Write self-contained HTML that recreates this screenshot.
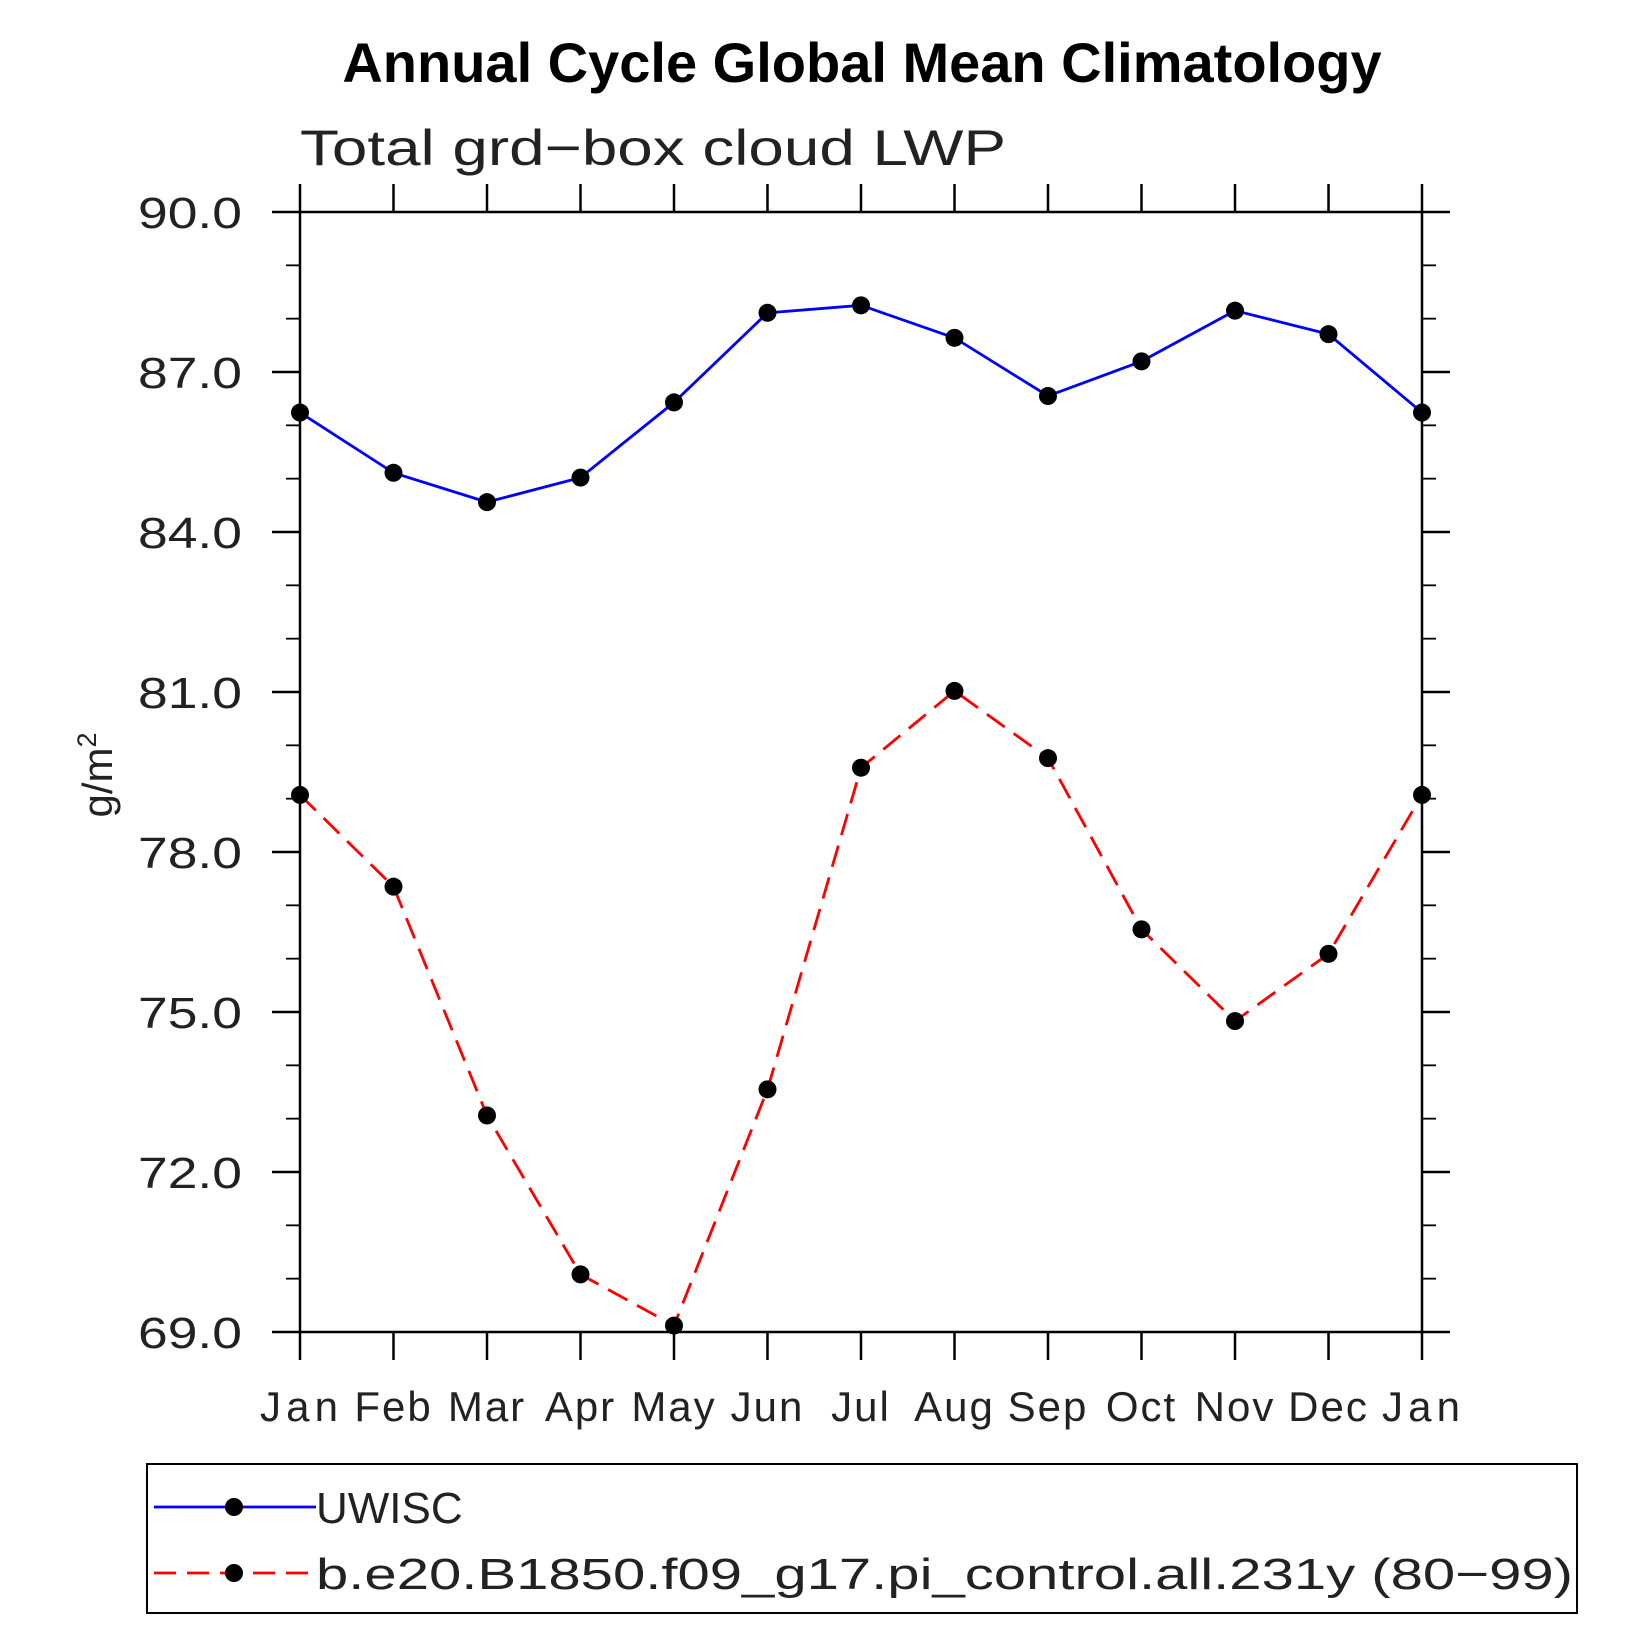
<!DOCTYPE html>
<html><head><meta charset="utf-8"><style>
html,body{margin:0;padding:0;background:#fff;}
svg{display:block;}
text{font-family:"Liberation Sans",sans-serif;}
</style></head><body>
<svg id="chart" width="1652" height="1652" viewBox="0 0 1652 1652" xmlns="http://www.w3.org/2000/svg">
<text x="862" y="82" text-anchor="middle" font-size="56" font-weight="bold">Annual Cycle Global Mean Climatology</text>
<text x="300" y="165" font-size="50" fill="#222" textLength="706" lengthAdjust="spacingAndGlyphs">Total grd−box cloud LWP</text>
<text transform="translate(112,775) rotate(-90)" text-anchor="middle" font-size="42" fill="#222">g/m<tspan dy="-16" font-size="27">2</tspan></text>
<g id="axes"></g>
<g id="series"></g>
<rect x="147" y="1464" width="1430" height="149" fill="none" stroke="#000" stroke-width="2"/>
<line x1="154" y1="1507" x2="316" y2="1507" stroke="#0000ff" stroke-width="2.8"/>
<circle cx="234" cy="1507" r="9" fill="#000"/>
<text x="316" y="1523" font-size="44" fill="#222">UWISC</text>
<line x1="154" y1="1573" x2="316" y2="1573" stroke="#ff0000" stroke-width="2.8" stroke-dasharray="22,11"/>
<circle cx="234" cy="1573" r="9" fill="#000"/>
<text x="316" y="1589" font-size="44" fill="#222" textLength="1257" lengthAdjust="spacingAndGlyphs">b.e20.B1850.f09_g17.pi_control.all.231y (80−99)</text>
</svg>
<script>
const months = ["Jan","Feb","Mar","Apr","May","Jun","Jul","Aug","Sep","Oct","Nov","Dec","Jan"];
const uwisc = [86.24,85.11,84.56,85.02,86.43,88.11,88.25,87.64,86.55,87.20,88.15,87.71,86.24];
const control = [79.07,77.35,73.06,70.08,69.12,73.55,79.58,81.02,79.76,76.55,74.83,76.09,79.07];
const yTicks = ["69.0","72.0","75.0","78.0","81.0","84.0","87.0","90.0"];
const yMin = 69, yMax = 90;

const L=300, R=1422, T=212, B=1332;
const NS="http://www.w3.org/2000/svg";
const xs = i => L + (R-L)*i/(months.length-1);
const ys = v => B - (B-T)*(v-yMin)/(yMax-yMin);
function mk(tag, attrs, parent){const e=document.createElementNS(NS,tag);for(const k in attrs)e.setAttribute(k,attrs[k]);parent.appendChild(e);return e;}
const axes=document.getElementById('axes');
const series=document.getElementById('series');

const frame = mk('rect',{x:L,y:T,width:R-L,height:B-T,fill:'none',stroke:'#000','stroke-width':2.5},axes);



months.forEach((m,i)=>{
  const x=xs(i);
  const tb=mk('line',{x1:x,y1:B,x2:x,y2:B+28,stroke:'#000','stroke-width':2.5},axes);
  
  
  const tt=mk('line',{x1:x,y1:T,x2:x,y2:T-28,stroke:'#000','stroke-width':2.5},axes);
  
  
  const lb=mk('text',{x:x,y:1421,'text-anchor':'middle','font-size':42,fill:'#222','letter-spacing':'2'},axes);
  if(m==='Jan') lb.setAttribute('textLength','80');
  lb.textContent=m;
  
  
});
for(let v=yMin; v<=yMax+0.001; v+=1){
  const y=ys(v);
  const major = Math.abs((v-yMin)%3)<0.001;
  const len = major?28:14;
  const t1=mk('line',{x1:L,y1:y,x2:L-len,y2:y,stroke:'#000','stroke-width':major?2.5:1.8},axes);
  
  
  const t2=mk('line',{x1:R,y1:y,x2:R+len,y2:y,stroke:'#000','stroke-width':major?2.5:1.8},axes);
  
  
}
yTicks.forEach(s=>{
  const v=parseFloat(s);
  const lb=mk('text',{x:138,y:ys(v)+16,'font-size':44,fill:'#222',textLength:104,lengthAdjust:'spacingAndGlyphs'},axes);
  lb.textContent=s;
  
  
});

function drawSeries(vals,color,dash,name){
  const pts=vals.map((v,i)=>xs(i)+','+ys(v)).join(' ');
  const a={points:pts,fill:'none',stroke:color,'stroke-width':2.8};
  if(dash)a['stroke-dasharray']=dash;
  const pl=mk('polyline',a,series);
  
  
  vals.forEach((v,i)=>{
    const c=mk('circle',{cx:xs(i),cy:ys(v),r:9,fill:'#000'},series);
    
    
  });
}
drawSeries(uwisc,'#0000ff',null,'uwisc');
drawSeries(control,'#ff0000','22,11','control');
</script>
</body></html>
